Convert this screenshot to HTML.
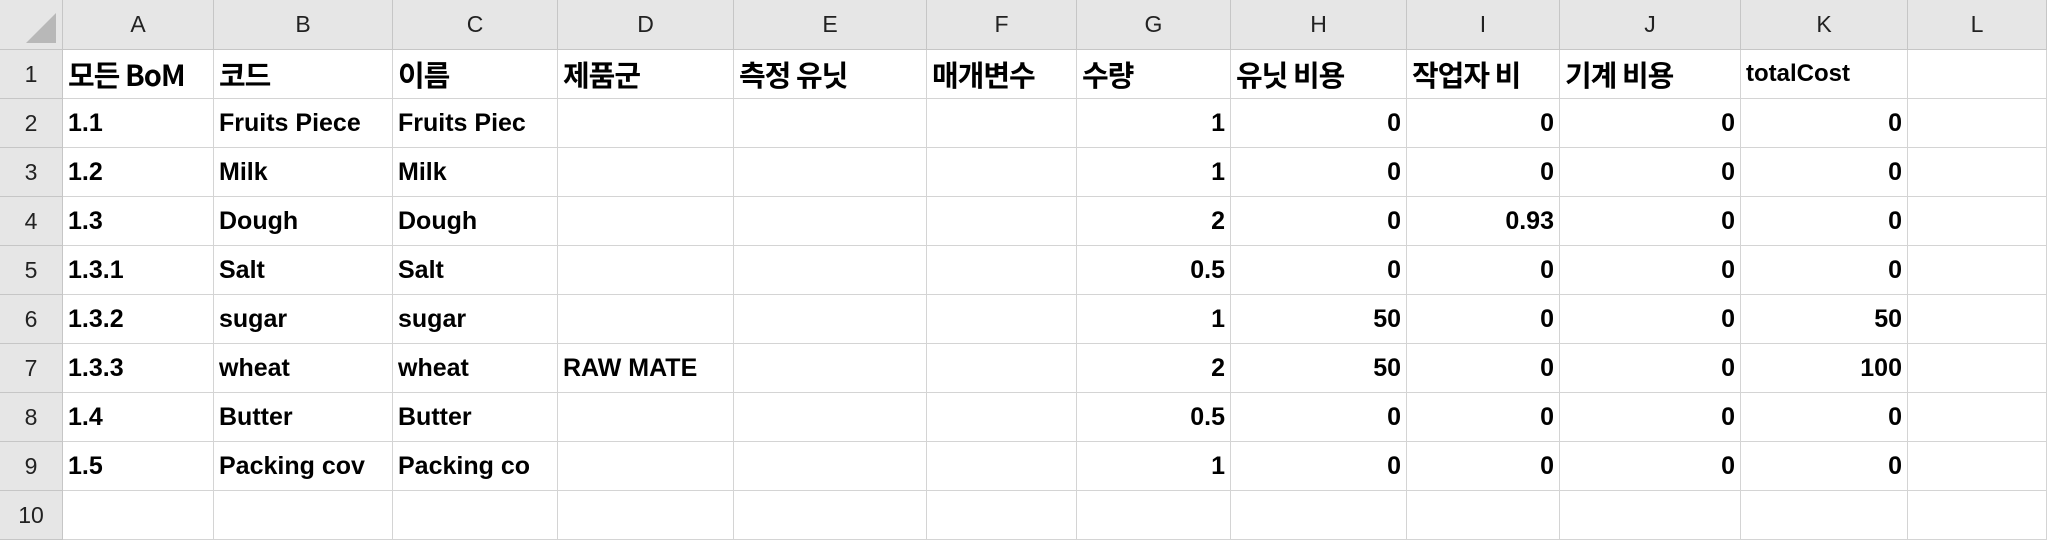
<!DOCTYPE html>
<html><head><meta charset="utf-8"><style>
body{margin:0;width:2047px;height:524px;overflow:hidden;background:#fff;font-family:"Liberation Sans","Noto Sans CJK KR",sans-serif;}
#sheet{position:relative;width:2047px;height:524px;}
.c{position:absolute;box-sizing:border-box;border-right:1px solid #d4d4d4;border-bottom:1px solid #d4d4d4;overflow:hidden;white-space:nowrap;font-weight:bold;font-size:25px;color:#000;padding:0 5px;display:flex;align-items:center;}
.h{background:#e6e6e6;border-color:#c6c6c6;font-weight:normal;font-size:23px;color:#222;justify-content:center;}
.r{justify-content:flex-end;}
.t{font-weight:bold;font-size:29px;font-family:"Noto Sans CJK KR","Liberation Sans",sans-serif;letter-spacing:-1px;}
</style></head><body>
<div id="sheet"></div>
<script>
const colEdges=[0,63,214,393,558,734,927,1077,1231,1407,1560,1741,1908,2047];
const colLetters=["A","B","C","D","E","F","G","H","I","J","K","L"];
const headers=["모든 BoM","코드","이름","제품군","측정 유닛","매개변수","수량","유닛 비용","작업자 비","기계 비용","totalCost",""];
const rowsData=[
["1.1","Fruits Piece","Fruits Piec","","","","1","0","0","0","0",""],
["1.2","Milk","Milk","","","","1","0","0","0","0",""],
["1.3","Dough","Dough","","","","2","0","0.93","0","0",""],
["1.3.1","Salt","Salt","","","","0.5","0","0","0","0",""],
["1.3.2","sugar","sugar","","","","1","50","0","0","50",""],
["1.3.3","wheat","wheat","RAW MATE","","","2","50","0","0","100",""],
["1.4","Butter","Butter","","","","0.5","0","0","0","0",""],
["1.5","Packing cov","Packing co","","","","1","0","0","0","0",""],
["","","","","","","","","","","",""]];
const S=document.getElementById('sheet');
const HH=50,RH=49;
function cell(x,y,w,h,txt,cls){const d=document.createElement('div');d.className='c '+cls;d.style.left=x+'px';d.style.top=y+'px';d.style.width=w+'px';d.style.height=h+'px';d.textContent=txt;S.appendChild(d);return d;}
let corner=cell(0,0,63,HH,"",'h');


corner.innerHTML='<svg width="30" height="30" style="position:absolute;right:6px;bottom:6px"><polygon points="30,0 30,30 0,30" fill="#b8b8b8"/></svg>';
for(let i=0;i<12;i++){const d=cell(colEdges[i+1],0,colEdges[i+2]-colEdges[i+1],HH,colLetters[i],'h');

}
for(let r=0;r<10;r++){const y=HH+r*RH;
const rh=cell(0,y,63,RH,String(r+1),'h');


const vals=r===0?headers:rowsData[r-1];
for(let i=0;i<12;i++){let cls='';if(r===0)cls=i===10?'':'t';else if(i>=6&&i<=10)cls='r';
const d=cell(colEdges[i+1],y,colEdges[i+2]-colEdges[i+1],RH,vals[i],cls);
if(r===0&&i===10)d.style.fontSize='24px';

}}
</script>
</body></html>
